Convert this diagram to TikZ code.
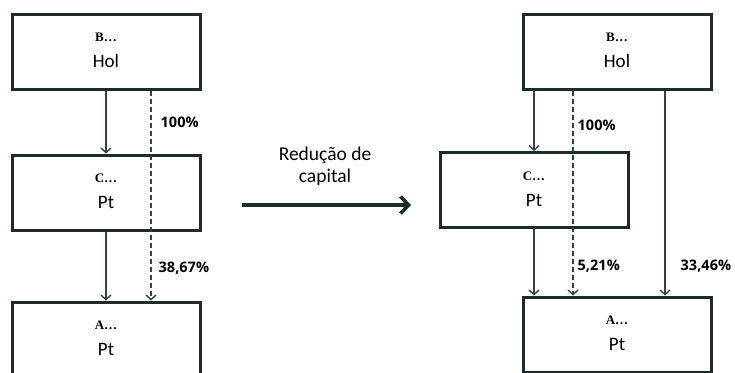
\documentclass[tikz,border=0pt]{standalone}
\usepackage{fontspec}
\setmainfont{Carlito}
\newfontfamily\namefont{Liberation Serif}
\newfontfamily\pctfont{Open Sans}
\usetikzlibrary{arrows.meta, positioning}

\definecolor{boxline}{HTML}{1F2B2B}
\definecolor{arrline}{HTML}{34423F}

% entity text: short name over country
\newcommand{\entity}[2]{%
  {\namefont\fontsize{13}{13}\selectfont\bfseries #1\ldots}\\[4pt]#2}

\begin{document}
\begin{tikzpicture}[
  x=1pt, y=-1pt,
  entbox/.style = {
    draw=boxline,
    line width=3pt,
    minimum height=75pt,
    minimum width=188pt,
    align=center,
    inner sep=0pt,
    text depth=2pt,
    font=\fontsize{19}{22}\selectfont
  },
  arrow/.style = {
    draw=arrline,
    line width=1.4pt,
    -{Straight Barb[length=4.5pt, width=10pt, line width=1.4pt]}
  },
  dasharrow/.style = {
    arrow,
    dash pattern=on 5pt off 3pt
  },
  pct/.style = {
    font=\pctfont\bfseries\fontsize{14.5}{16}\selectfont,
    anchor=west,
    inner sep=0pt
  },
  bigarrow/.style = {
    draw=boxline,
    line width=3.6pt,
    -{Straight Barb[length=8pt, width=17pt, line width=3.6pt]}
  }
]
\useasboundingbox (0,0) rectangle (735,372);

% ======================================================
% BEFORE
% ======================================================

\node[entbox] (hol_before) at (106,51.5) {\entity{B}{Hol}};
\node[entbox, below=63pt of hol_before] (pt1_before) {\entity{C}{Pt}};
\node[entbox, below=69pt of pt1_before] (pt2_before) {\entity{A}{Pt}};

\draw[arrow] (hol_before.south) -- (pt1_before.north);
\draw[arrow] (pt1_before.south) -- (pt2_before.north);

\draw[dasharrow]
  ([xshift=45pt]hol_before.south) -- ([xshift=45pt]pt2_before.north)
    node[pct, pos=0.15, xshift=9pt] {100\%}
    node[pct, pos=0.846, xshift=7pt] {38,67\%};

% ======================================================
% CAPITAL REDUCTION
% ======================================================

\coordinate (red_start) at (242,205);
\coordinate (red_end) at (411,205);
\draw[bigarrow] (red_start) -- (red_end);
\node[align=center, font=\fontsize{19.5}{22}\selectfont] (red_label) at (325,166)
  {Redução de\\capital};

% ======================================================
% AFTER
% ======================================================

\node[entbox] (hol_after) at (617,51.5) {\entity{B}{Hol}};
\node[entbox] (pt1_after) at (534,190) {\entity{C}{Pt}};
\node[entbox] (pt2_after) at (617,334.5) {\entity{A}{Pt}};

\draw[arrow] ([xshift=-83pt]hol_after.south) -- (pt1_after.north);
\draw[arrow] (pt1_after.south) -- ([xshift=-83pt]pt2_after.north);

\draw[dasharrow]
  ([xshift=-44pt]hol_after.south) -- ([xshift=-44pt]pt2_after.north)
    node[pct, pos=0.17, xshift=4pt] {100\%}
    node[pct, pos=0.856, xshift=4pt] {5,21\%};

\draw[arrow]
  ([xshift=48pt]hol_after.south) -- ([xshift=48pt]pt2_after.north)
    node[pct, pos=0.856, xshift=15pt] {33,46\%};

\end{tikzpicture}
\end{document}
